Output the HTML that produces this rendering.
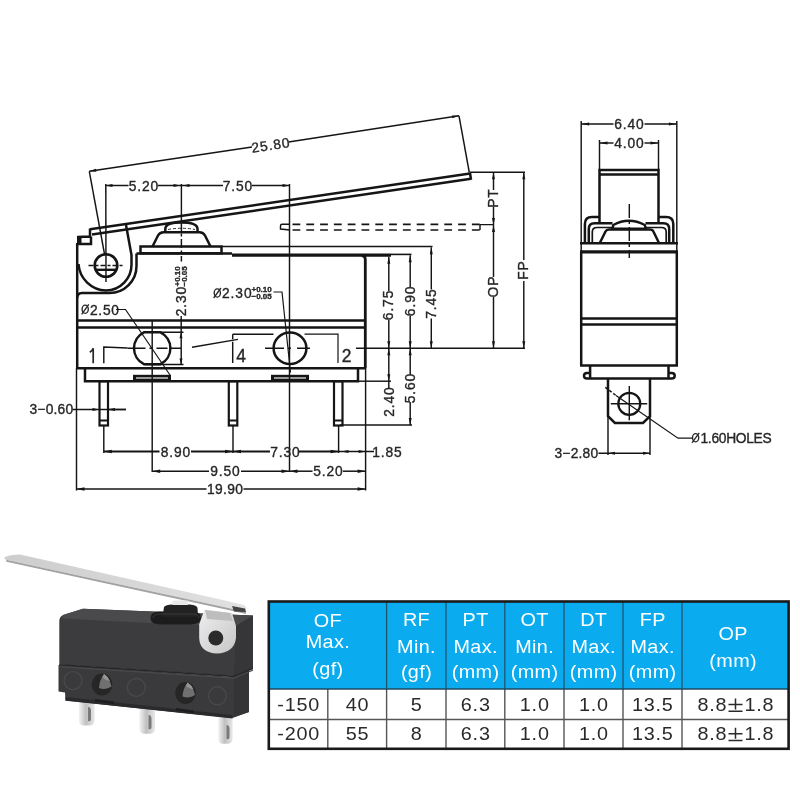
<!DOCTYPE html>
<html><head><meta charset="utf-8">
<style>
html,body{margin:0;padding:0;background:#fff;width:800px;height:800px;overflow:hidden;}
svg{position:absolute;left:0;top:0;will-change:transform;}
text{font-family:"Liberation Sans",sans-serif;}
.dt text{stroke:#262626;stroke-width:0.35;}
</style></head>
<body>
<svg width="800" height="800" viewBox="0 0 800 800">
<g class="dt">
<line x1="90.00" y1="229.30" x2="470.00" y2="173.55" stroke="#151515" stroke-width="2.5"/>
<line x1="92.00" y1="234.60" x2="471.00" y2="178.71" stroke="#151515" stroke-width="2.5"/>
<line x1="470.00" y1="173.05" x2="471.00" y2="179.71" stroke="#151515" stroke-width="2.5"/>
<path d="M90,228.5 L90,236.5 L78.5,237 L78.5,244 L91,244 L91,236.5" fill="none" stroke="#151515" stroke-width="2.5" />
<rect x="77" y="236" width="4.5" height="8.5" fill="#151515"/>
<path d="M126,225 L131.5,255 L131.5,264 A25.5,26 0 0 1 106,290.5 A28.5,28.5 0 0 1 78.5,264" fill="none" stroke="#151515" stroke-width="2.5" />
<path d="M136.5,253.5 L136.5,266 A27,27 0 0 1 109.5,293 L82,293 Q77.2,293 77.2,298" fill="none" stroke="#151515" stroke-width="2.5" />
<circle cx="106" cy="265.5" r="11.3" fill="none" stroke="#151515" stroke-width="2.6"/>
<line x1="95.50" y1="269.80" x2="116.50" y2="269.80" stroke="#151515" stroke-width="2.4"/>
<line x1="88.50" y1="265.50" x2="123.50" y2="265.50" stroke="#151515" stroke-width="1.45" stroke-dasharray="5,2,3,2"/>
<line x1="105.80" y1="184.00" x2="106.00" y2="282.00" stroke="#151515" stroke-width="1.45"/>
<line x1="89.30" y1="171.30" x2="104.50" y2="254.00" stroke="#151515" stroke-width="1.45"/>
<line x1="459.00" y1="115.80" x2="469.30" y2="172.50" stroke="#151515" stroke-width="1.45"/>
<line x1="89.30" y1="171.30" x2="252.00" y2="146.90" stroke="#151515" stroke-width="1.5"/>
<line x1="288.50" y1="142.10" x2="459.00" y2="115.80" stroke="#151515" stroke-width="1.5"/>
<path d="M89.30,171.30 L96.00,168.78 L96.45,171.74 Z" fill="#151515"/>
<path d="M459.00,115.80 L452.31,118.34 L451.85,115.38 Z" fill="#151515"/>
<g transform="rotate(-8.7 270.5 145.5)"><text x="270.95" y="145.5" font-size="13.8" text-anchor="middle" fill="#262626" dominant-baseline="central" letter-spacing="0.9">25.80</text></g>
<rect x="140.5" y="246.5" width="81" height="6.8" fill="none" stroke="#151515" stroke-width="2.5"/>
<path d="M152.5,246.5 L158,235.5 Q159.8,232.2 163.5,232.2 L199.5,232.2 Q203.2,232.2 205,235.5 L210.5,246.5" fill="none" stroke="#151515" stroke-width="2.5" />
<path d="M165.3,232.2 L165.3,229 Q165.3,222.5 181.5,222.5 Q197.5,222.5 197.5,229 L197.5,232.2" fill="none" stroke="#151515" stroke-width="2.5" />
<path d="M168,229.5 Q181.5,227 195,229.5" fill="none" stroke="#151515" stroke-width="0.9" stroke-dasharray="3,2"/>
<line x1="181.40" y1="222.00" x2="181.40" y2="261.50" stroke="#151515" stroke-width="1.45" stroke-dasharray="9,2.5,3,2.5"/>
<line x1="136.50" y1="253.50" x2="232.00" y2="253.50" stroke="#151515" stroke-width="2.5"/>
<line x1="232.00" y1="255.10" x2="391.00" y2="255.10" stroke="#151515" stroke-width="3.3"/>
<path d="M361.5,255.5 Q365.3,255.5 365.3,259.5 L365.3,368.3" fill="none" stroke="#151515" stroke-width="2.8" />
<line x1="221.50" y1="246.50" x2="432.50" y2="246.50" stroke="#151515" stroke-width="1.7"/>
<line x1="391.00" y1="254.40" x2="411.50" y2="254.40" stroke="#151515" stroke-width="1.6"/>
<line x1="77.20" y1="243.00" x2="77.20" y2="368.30" stroke="#151515" stroke-width="2.5"/>
<line x1="77.20" y1="320.40" x2="365.00" y2="320.40" stroke="#151515" stroke-width="2.5"/>
<line x1="77.20" y1="327.40" x2="365.00" y2="327.40" stroke="#151515" stroke-width="2.5"/>
<line x1="76.00" y1="368.30" x2="366.00" y2="368.30" stroke="#151515" stroke-width="2.5"/>
<path d="M85,368.3 L85,381.2 L358,381.2 L358,368.3" fill="none" stroke="#151515" stroke-width="2.5" />
<rect x="133" y="374.8" width="38" height="6.6" fill="#151515"/>
<rect x="136" y="377" width="32" height="2" fill="#9a9a9a"/>
<rect x="271" y="374.8" width="38" height="6.6" fill="#151515"/>
<rect x="274" y="377" width="32" height="2" fill="#9a9a9a"/>
<rect x="99.5" y="381.2" width="8.5" height="44.3" fill="none" stroke="#151515" stroke-width="2.2"/>
<line x1="99.50" y1="420.50" x2="108.00" y2="420.50" stroke="#151515" stroke-width="2.0"/>
<rect x="228.8" y="381.2" width="8.5" height="44.3" fill="none" stroke="#151515" stroke-width="2.2"/>
<line x1="228.80" y1="420.50" x2="237.30" y2="420.50" stroke="#151515" stroke-width="2.0"/>
<rect x="334.0" y="381.2" width="8.5" height="44.3" fill="none" stroke="#151515" stroke-width="2.2"/>
<line x1="334.00" y1="420.50" x2="342.50" y2="420.50" stroke="#151515" stroke-width="2.0"/>
<path d="M143.9,332.3 L160.5,332.3 A17.8,17.8 0 0 1 160.5,364.2 L143.9,364.2 A17.8,17.8 0 0 1 143.9,332.3 Z" fill="none" stroke="#151515" stroke-width="2.5" />
<line x1="145.00" y1="332.20" x2="183.50" y2="332.20" stroke="#151515" stroke-width="1.45"/>
<line x1="145.00" y1="364.40" x2="183.50" y2="364.40" stroke="#151515" stroke-width="1.45"/>
<line x1="127.50" y1="348.20" x2="181.00" y2="348.20" stroke="#151515" stroke-width="1.45" stroke-dasharray="18,4,3,4,11,2"/>
<line x1="152.20" y1="321.00" x2="152.20" y2="472.00" stroke="#151515" stroke-width="1.45"/>
<ellipse cx="290" cy="348.3" rx="16.4" ry="15.8" fill="none" stroke="#151515" stroke-width="2.5"/>
<line x1="265.00" y1="348.30" x2="316.50" y2="348.30" stroke="#151515" stroke-width="1.45" stroke-dasharray="19,4,3,6,13"/>
<line x1="289.50" y1="184.00" x2="289.50" y2="472.00" stroke="#151515" stroke-width="1.45"/>
<line x1="181.40" y1="184.00" x2="181.40" y2="222.00" stroke="#151515" stroke-width="1.45"/>
<line x1="181.20" y1="316.00" x2="181.20" y2="364.40" stroke="#151515" stroke-width="1.45"/>
<path d="M181.00,332.20 L182.50,338.20 L179.50,338.20 Z" fill="#151515"/>
<path d="M181.00,364.40 L179.50,358.40 L182.50,358.40 Z" fill="#151515"/>
<g transform="rotate(-90 181.5 301.5)"><text x="181.95" y="301.5" font-size="13.8" text-anchor="middle" fill="#262626" dominant-baseline="central" letter-spacing="0.9">2.30</text></g>
<g transform="rotate(-90 177.2 286.5)"><text x="177.2" y="286.5" font-size="8" font-weight="bold" text-anchor="start" fill="#262626" dominant-baseline="central">+0.10</text></g>
<g transform="rotate(-90 184.4 286.5)"><text x="184.4" y="286.5" font-size="8" font-weight="bold" text-anchor="start" fill="#262626" dominant-baseline="central">−0.05</text></g>
<ellipse cx="85.2" cy="309.3" rx="3.1" ry="4.1" fill="none" stroke="#262626" stroke-width="1.35"/>
<line x1="81.60000000000001" y1="314.3" x2="88.8" y2="304.3" stroke="#262626" stroke-width="1.3"/>
<text x="90" y="310" font-size="13.8" text-anchor="start" fill="#262626" dominant-baseline="central" letter-spacing="0.7">2.50</text>
<path d="M116,309.5 L125.5,309.5 L170,375" fill="none" stroke="#151515" stroke-width="1.2" />
<ellipse cx="217.3" cy="293" rx="3.1" ry="4.1" fill="none" stroke="#262626" stroke-width="1.35"/>
<line x1="213.70000000000002" y1="298" x2="220.9" y2="288" stroke="#262626" stroke-width="1.3"/>
<text x="222" y="293.5" font-size="13.8" text-anchor="start" fill="#262626" dominant-baseline="central" letter-spacing="0.9">2.30</text>
<g><text x="251.5" y="289.5" font-size="8" font-weight="bold" text-anchor="start" fill="#262626" dominant-baseline="central">+0.10</text></g>
<g><text x="251.5" y="296.8" font-size="8" font-weight="bold" text-anchor="start" fill="#262626" dominant-baseline="central">−0.05</text></g>
<path d="M273.5,292 L282,292 L290.5,372.5" fill="none" stroke="#151515" stroke-width="1.2" />
<path d="M127.5,348 L103.8,347 L103.8,363.3" fill="none" stroke="#151515" stroke-width="1.45" />
<path d="M89.8,352.3 Q92.5,350.5 93.2,348.2 L93.2,363.3" fill="none" stroke="#262626" stroke-width="1.7" />
<line x1="192.00" y1="347.20" x2="238.00" y2="339.40" stroke="#151515" stroke-width="1.45"/>
<line x1="273.50" y1="334.20" x2="232.70" y2="334.20" stroke="#151515" stroke-width="1.45"/>
<line x1="232.70" y1="334.20" x2="232.70" y2="363.00" stroke="#151515" stroke-width="1.45" stroke-dasharray="5,2.5,21.5"/>
<text x="241.0" y="356" font-size="17.5" text-anchor="middle" fill="#262626" dominant-baseline="central" letter-spacing="0">4</text>
<path d="M304.5,334.2 L338,334.2 L338,363" fill="none" stroke="#151515" stroke-width="1.2" />
<text x="346.5" y="356" font-size="17.5" text-anchor="middle" fill="#262626" dominant-baseline="central" letter-spacing="0">2</text>
<line x1="356.00" y1="348.20" x2="525.00" y2="348.20" stroke="#151515" stroke-width="1.45"/>
<line x1="388.80" y1="256.80" x2="388.80" y2="290.90" stroke="#151515" stroke-width="1.45"/>
<line x1="388.80" y1="319.90" x2="388.80" y2="348.20" stroke="#151515" stroke-width="1.45"/>
<path d="M388.80,256.80 L390.30,263.80 L387.30,263.80 Z" fill="#151515"/>
<path d="M388.80,348.20 L387.30,341.20 L390.30,341.20 Z" fill="#151515"/>
<g transform="rotate(-90 388.8 305.4)"><text x="389.25" y="305.4" font-size="13.8" text-anchor="middle" fill="#262626" dominant-baseline="central" letter-spacing="0.9">6.75</text></g>
<line x1="410.20" y1="255.30" x2="410.20" y2="286.90" stroke="#151515" stroke-width="1.45"/>
<line x1="410.20" y1="315.90" x2="410.20" y2="348.20" stroke="#151515" stroke-width="1.45"/>
<path d="M410.20,255.30 L411.70,262.30 L408.70,262.30 Z" fill="#151515"/>
<path d="M410.20,348.20 L408.70,341.20 L411.70,341.20 Z" fill="#151515"/>
<g transform="rotate(-90 410.2 301.4)"><text x="410.65" y="301.4" font-size="13.8" text-anchor="middle" fill="#262626" dominant-baseline="central" letter-spacing="0.9">6.90</text></g>
<line x1="431.30" y1="247.30" x2="431.30" y2="289.50" stroke="#151515" stroke-width="1.45"/>
<line x1="431.30" y1="318.50" x2="431.30" y2="348.20" stroke="#151515" stroke-width="1.45"/>
<path d="M431.30,247.30 L432.80,254.30 L429.80,254.30 Z" fill="#151515"/>
<path d="M431.30,348.20 L429.80,341.20 L432.80,341.20 Z" fill="#151515"/>
<g transform="rotate(-90 431.3 304)"><text x="431.75" y="304" font-size="13.8" text-anchor="middle" fill="#262626" dominant-baseline="central" letter-spacing="0.9">7.45</text></g>
<line x1="388.80" y1="348.20" x2="388.80" y2="389.00" stroke="#151515" stroke-width="1.45"/>
<path d="M388.80,348.20 L390.30,355.20 L387.30,355.20 Z" fill="#151515"/>
<path d="M388.80,381.20 L387.30,374.20 L390.30,374.20 Z" fill="#151515"/>
<g transform="rotate(-90 389.2 402)"><text x="389.65" y="402" font-size="13.8" text-anchor="middle" fill="#262626" dominant-baseline="central" letter-spacing="0.9">2.40</text></g>
<line x1="359.00" y1="381.20" x2="391.00" y2="381.20" stroke="#151515" stroke-width="1.45"/>
<line x1="410.20" y1="348.20" x2="410.20" y2="375.00" stroke="#151515" stroke-width="1.45"/>
<line x1="410.20" y1="402.00" x2="410.20" y2="425.00" stroke="#151515" stroke-width="1.45"/>
<path d="M410.20,348.20 L411.70,355.20 L408.70,355.20 Z" fill="#151515"/>
<path d="M410.20,425.00 L408.70,418.00 L411.70,418.00 Z" fill="#151515"/>
<g transform="rotate(-90 410.7 388.5)"><text x="411.15" y="388.5" font-size="13.8" text-anchor="middle" fill="#262626" dominant-baseline="central" letter-spacing="0.9">5.60</text></g>
<line x1="340.00" y1="425.00" x2="412.00" y2="425.00" stroke="#151515" stroke-width="1.45"/>
<line x1="470.00" y1="172.30" x2="525.00" y2="172.30" stroke="#151515" stroke-width="1.45"/>
<line x1="493.50" y1="172.30" x2="493.50" y2="190.00" stroke="#151515" stroke-width="1.45"/>
<line x1="493.50" y1="207.00" x2="493.50" y2="225.00" stroke="#151515" stroke-width="1.45"/>
<path d="M493.50,172.30 L495.00,179.30 L492.00,179.30 Z" fill="#151515"/>
<path d="M493.50,225.00 L492.00,218.00 L495.00,218.00 Z" fill="#151515"/>
<g transform="rotate(-90 493.5 198.5)"><text x="493.95" y="198.5" font-size="13.8" text-anchor="middle" fill="#262626" dominant-baseline="central" letter-spacing="0.9">PT</text></g>
<line x1="493.50" y1="225.00" x2="493.50" y2="277.00" stroke="#151515" stroke-width="1.45"/>
<line x1="493.50" y1="297.00" x2="493.50" y2="348.20" stroke="#151515" stroke-width="1.45"/>
<path d="M493.50,225.00 L495.00,232.00 L492.00,232.00 Z" fill="#151515"/>
<path d="M493.50,348.20 L492.00,341.20 L495.00,341.20 Z" fill="#151515"/>
<g transform="rotate(-90 493.5 287)"><text x="493.95" y="287" font-size="13.8" text-anchor="middle" fill="#262626" dominant-baseline="central" letter-spacing="0.9">OP</text></g>
<line x1="523.80" y1="172.30" x2="523.80" y2="260.00" stroke="#151515" stroke-width="1.45"/>
<line x1="523.80" y1="281.00" x2="523.80" y2="348.20" stroke="#151515" stroke-width="1.45"/>
<path d="M523.80,172.30 L525.30,179.30 L522.30,179.30 Z" fill="#151515"/>
<path d="M523.80,348.20 L522.30,341.20 L525.30,341.20 Z" fill="#151515"/>
<g transform="rotate(-90 523.8 270.5)"><text x="524.25" y="270.5" font-size="13.8" text-anchor="middle" fill="#262626" dominant-baseline="central" letter-spacing="0.9">FP</text></g>
<line x1="292.50" y1="224.30" x2="480.00" y2="224.30" stroke="#151515" stroke-width="1.7" stroke-dasharray="7.8,6"/>
<line x1="292.50" y1="230.00" x2="480.00" y2="230.00" stroke="#151515" stroke-width="1.7" stroke-dasharray="7.8,6"/>
<path d="M480,230 L480,224.6 L494,224.6" fill="none" stroke="#151515" stroke-width="1.45" />
<path d="M290,224.3 L282,224.3 Q280.5,224.3 280.5,226 L280.5,229 L290,230" fill="none" stroke="#151515" stroke-width="1.45" />
<line x1="105.50" y1="185.50" x2="128.50" y2="185.50" stroke="#151515" stroke-width="1.5"/>
<line x1="157.50" y1="185.50" x2="181.50" y2="185.50" stroke="#151515" stroke-width="1.5"/>
<line x1="181.50" y1="185.50" x2="223.00" y2="185.50" stroke="#151515" stroke-width="1.5"/>
<line x1="252.00" y1="185.50" x2="289.50" y2="185.50" stroke="#151515" stroke-width="1.5"/>
<path d="M105.50,185.50 L112.50,184.00 L112.50,187.00 Z" fill="#151515"/>
<path d="M180.50,185.50 L173.50,187.00 L173.50,184.00 Z" fill="#151515"/>
<path d="M182.50,185.50 L189.50,184.00 L189.50,187.00 Z" fill="#151515"/>
<path d="M289.50,185.50 L282.50,187.00 L282.50,184.00 Z" fill="#151515"/>
<text x="143.95" y="186" font-size="13.8" text-anchor="middle" fill="#262626" dominant-baseline="central" letter-spacing="0.9">5.20</text>
<text x="237.95" y="186" font-size="13.8" text-anchor="middle" fill="#262626" dominant-baseline="central" letter-spacing="0.9">7.50</text>
<text x="51.4" y="409.5" font-size="13.8" text-anchor="middle" fill="#262626" dominant-baseline="central" letter-spacing="0.2">3−0.60</text>
<line x1="72.50" y1="409.50" x2="126.00" y2="409.50" stroke="#151515" stroke-width="1.45"/>
<path d="M99.50,409.50 L92.50,411.00 L92.50,408.00 Z" fill="#151515"/>
<line x1="108.00" y1="409.50" x2="126.00" y2="409.50" stroke="#151515" stroke-width="1.45"/>
<path d="M108.00,409.50 L115.00,408.00 L115.00,411.00 Z" fill="#151515"/>
<line x1="103.80" y1="425.50" x2="103.80" y2="453.00" stroke="#151515" stroke-width="1.45"/>
<line x1="233.00" y1="425.50" x2="233.00" y2="453.00" stroke="#151515" stroke-width="1.45"/>
<line x1="338.60" y1="425.50" x2="338.60" y2="453.00" stroke="#151515" stroke-width="1.45"/>
<line x1="76.50" y1="368.30" x2="76.50" y2="490.50" stroke="#151515" stroke-width="1.45"/>
<line x1="365.60" y1="368.30" x2="365.60" y2="490.50" stroke="#151515" stroke-width="1.45"/>
<line x1="103.80" y1="451.50" x2="159.50" y2="451.50" stroke="#151515" stroke-width="1.8"/>
<line x1="191.00" y1="451.50" x2="233.00" y2="451.50" stroke="#151515" stroke-width="1.8"/>
<line x1="233.00" y1="451.50" x2="270.00" y2="451.50" stroke="#151515" stroke-width="1.8"/>
<line x1="298.50" y1="451.50" x2="338.60" y2="451.50" stroke="#151515" stroke-width="1.8"/>
<path d="M103.80,451.50 L111.80,449.80 L111.80,453.20 Z" fill="#151515"/>
<path d="M233.00,451.50 L225.00,453.20 L225.00,449.80 Z" fill="#151515"/>
<path d="M233.00,451.50 L241.00,449.80 L241.00,453.20 Z" fill="#151515"/>
<path d="M338.60,451.50 L330.60,453.20 L330.60,449.80 Z" fill="#151515"/>
<line x1="338.60" y1="451.50" x2="374.00" y2="451.50" stroke="#151515" stroke-width="1.45"/>
<path d="M341.50,451.50 L348.50,450.00 L348.50,453.00 Z" fill="#151515"/>
<path d="M365.60,451.50 L358.60,453.00 L358.60,450.00 Z" fill="#151515"/>
<text x="175.95" y="452" font-size="13.8" text-anchor="middle" fill="#262626" dominant-baseline="central" letter-spacing="0.9">8.90</text>
<text x="285.45" y="452" font-size="13.8" text-anchor="middle" fill="#262626" dominant-baseline="central" letter-spacing="0.9">7.30</text>
<text x="387.45" y="452" font-size="13.8" text-anchor="middle" fill="#262626" dominant-baseline="central" letter-spacing="0.9">1.85</text>
<line x1="152.20" y1="471.20" x2="209.00" y2="471.20" stroke="#151515" stroke-width="1.5"/>
<line x1="241.00" y1="471.20" x2="289.50" y2="471.20" stroke="#151515" stroke-width="1.5"/>
<line x1="289.50" y1="471.20" x2="312.50" y2="471.20" stroke="#151515" stroke-width="1.5"/>
<line x1="343.00" y1="471.20" x2="365.60" y2="471.20" stroke="#151515" stroke-width="1.5"/>
<path d="M152.20,471.20 L160.20,469.50 L160.20,472.90 Z" fill="#151515"/>
<path d="M289.50,471.20 L281.50,472.90 L281.50,469.50 Z" fill="#151515"/>
<path d="M289.50,471.20 L297.50,469.50 L297.50,472.90 Z" fill="#151515"/>
<path d="M365.60,471.20 L357.60,472.90 L357.60,469.50 Z" fill="#151515"/>
<text x="225.45" y="471.5" font-size="13.8" text-anchor="middle" fill="#262626" dominant-baseline="central" letter-spacing="0.9">9.50</text>
<text x="328.45" y="471.5" font-size="13.8" text-anchor="middle" fill="#262626" dominant-baseline="central" letter-spacing="0.9">5.20</text>
<line x1="76.50" y1="489.00" x2="206.50" y2="489.00" stroke="#151515" stroke-width="1.5"/>
<line x1="243.50" y1="489.00" x2="365.60" y2="489.00" stroke="#151515" stroke-width="1.5"/>
<path d="M76.50,489.00 L84.50,487.30 L84.50,490.70 Z" fill="#151515"/>
<path d="M365.60,489.00 L357.60,490.70 L357.60,487.30 Z" fill="#151515"/>
<text x="225.2" y="489.5" font-size="13.8" text-anchor="middle" fill="#262626" dominant-baseline="central" letter-spacing="0.4">19.90</text>
<line x1="581.20" y1="121.00" x2="581.20" y2="252.00" stroke="#151515" stroke-width="1.45"/>
<line x1="676.80" y1="121.00" x2="676.80" y2="252.00" stroke="#151515" stroke-width="1.45"/>
<line x1="581.20" y1="124.00" x2="613.50" y2="124.00" stroke="#151515" stroke-width="1.45"/>
<line x1="644.50" y1="124.00" x2="676.80" y2="124.00" stroke="#151515" stroke-width="1.45"/>
<path d="M581.20,124.00 L589.20,122.40 L589.20,125.60 Z" fill="#151515"/>
<path d="M676.80,124.00 L668.80,125.60 L668.80,122.40 Z" fill="#151515"/>
<text x="629.45" y="124.5" font-size="13.8" text-anchor="middle" fill="#262626" dominant-baseline="central" letter-spacing="0.9">6.40</text>
<line x1="599.50" y1="140.00" x2="599.50" y2="170.00" stroke="#151515" stroke-width="1.45"/>
<line x1="658.50" y1="140.00" x2="658.50" y2="170.00" stroke="#151515" stroke-width="1.45"/>
<line x1="599.50" y1="143.00" x2="613.50" y2="143.00" stroke="#151515" stroke-width="1.45"/>
<line x1="644.50" y1="143.00" x2="658.50" y2="143.00" stroke="#151515" stroke-width="1.45"/>
<path d="M599.50,143.00 L607.50,141.40 L607.50,144.60 Z" fill="#151515"/>
<path d="M658.50,143.00 L650.50,144.60 L650.50,141.40 Z" fill="#151515"/>
<text x="629.45" y="143.5" font-size="13.8" text-anchor="middle" fill="#262626" dominant-baseline="central" letter-spacing="0.9">4.00</text>
<path d="M599.5,222 L599.5,170 L658.5,170 L658.5,222" fill="none" stroke="#151515" stroke-width="2.5" />
<line x1="599.50" y1="174.50" x2="658.50" y2="174.50" stroke="#151515" stroke-width="2.5"/>
<path d="M584.9,243 L584.9,224 Q584.9,217 592,217 L599.5,217" fill="none" stroke="#151515" stroke-width="2.5" />
<path d="M658.5,217 L666,217 Q673.3,217 673.3,224 L673.3,243" fill="none" stroke="#151515" stroke-width="2.5" />
<path d="M588.8,243 L588.8,229 Q588.8,223.3 594.5,223.3 L612.5,223.3" fill="none" stroke="#151515" stroke-width="2.5" />
<path d="M645.5,223.3 L663.5,223.3 Q669.2,223.3 669.2,229 L669.2,243" fill="none" stroke="#151515" stroke-width="2.5" />
<path d="M592.3,243 L592.3,232 Q592.3,227.5 597,227.5 L612.5,227.5" fill="none" stroke="#151515" stroke-width="1.7" />
<path d="M645.5,227.5 L661.5,227.5 Q666.2,227.5 666.2,232 L666.2,243" fill="none" stroke="#151515" stroke-width="1.7" />
<path d="M612.5,228.8 L613.3,225 Q628.8,216.5 644.8,225 L645.8,228.8 Z" fill="none" stroke="#151515" stroke-width="2.5" />
<path d="M599.8,243 L605.5,231.5 Q606.5,229.5 609,229.5 L650,229.5 Q652.5,229.5 653.4,231.5 L659,243" fill="none" stroke="#151515" stroke-width="2.5" />
<line x1="580.00" y1="243.30" x2="678.00" y2="243.30" stroke="#151515" stroke-width="2.5"/>
<line x1="580.00" y1="251.80" x2="678.00" y2="251.80" stroke="#151515" stroke-width="3.2"/>
<line x1="629.30" y1="204.00" x2="629.30" y2="258.00" stroke="#151515" stroke-width="1.45" stroke-dasharray="14,3,3,3"/>
<line x1="581.20" y1="251.80" x2="581.20" y2="365.50" stroke="#151515" stroke-width="2.5"/>
<line x1="676.80" y1="251.80" x2="676.80" y2="365.50" stroke="#151515" stroke-width="2.5"/>
<line x1="581.20" y1="318.40" x2="676.80" y2="318.40" stroke="#151515" stroke-width="2.5"/>
<line x1="581.20" y1="324.60" x2="676.80" y2="324.60" stroke="#151515" stroke-width="2.5"/>
<line x1="580.00" y1="365.50" x2="678.00" y2="365.50" stroke="#151515" stroke-width="2.5"/>
<line x1="590.10" y1="365.50" x2="590.10" y2="378.60" stroke="#151515" stroke-width="2.5"/>
<line x1="668.50" y1="365.50" x2="668.50" y2="378.60" stroke="#151515" stroke-width="2.5"/>
<path d="M590.1,372.9 L587,372.9 Q584,372.9 584,375.8 Q584,378.6 587,378.6 L671.7,378.6 Q674.7,378.6 674.7,375.8 Q674.7,372.9 671.7,372.9 L668.5,372.9" fill="none" stroke="#151515" stroke-width="2.5" />
<path d="M608,378.6 L608,416.2 L614.9,423 L643,423 L650,416.2 L650,378.6" fill="none" stroke="#151515" stroke-width="2.5" />
<circle cx="629.3" cy="403.8" r="11" fill="none" stroke="#151515" stroke-width="2.3"/>
<line x1="610.80" y1="403.80" x2="647.20" y2="403.80" stroke="#151515" stroke-width="1.45"/>
<line x1="629.30" y1="386.00" x2="629.30" y2="420.30" stroke="#151515" stroke-width="1.45"/>
<line x1="605.30" y1="387.30" x2="616.00" y2="395.50" stroke="#151515" stroke-width="1.45" stroke-dasharray="3,2"/>
<path d="M616,395.5 L678,438.2 L692,438.2" fill="none" stroke="#151515" stroke-width="1.2" />
<ellipse cx="695.6" cy="437.8" rx="3.1" ry="4.1" fill="none" stroke="#262626" stroke-width="1.35"/>
<line x1="692.0" y1="442.8" x2="699.2" y2="432.8" stroke="#262626" stroke-width="1.3"/>
<text x="700.5" y="438.5" font-size="13.8" text-anchor="start" fill="#262626" dominant-baseline="central" letter-spacing="-0.3">1.60HOLES</text>
<line x1="608.00" y1="416.00" x2="608.00" y2="455.00" stroke="#151515" stroke-width="1.45"/>
<line x1="650.00" y1="416.00" x2="650.00" y2="455.00" stroke="#151515" stroke-width="1.45"/>
<line x1="598.40" y1="453.30" x2="650.00" y2="453.30" stroke="#151515" stroke-width="1.45"/>
<path d="M608.00,453.30 L615.00,451.80 L615.00,454.80 Z" fill="#151515"/>
<path d="M650.00,453.30 L643.00,454.80 L643.00,451.80 Z" fill="#151515"/>
<text x="576.4" y="453.8" font-size="13.8" text-anchor="middle" fill="#262626" dominant-baseline="central" letter-spacing="0.2">3−2.80</text>
</g>

<defs>
<linearGradient id="lev" x1="0" y1="0" x2="1" y2="0"><stop offset="0" stop-color="#cdcdcd"/><stop offset="0.6" stop-color="#d8d8d8"/><stop offset="1" stop-color="#e2e2e2"/></linearGradient>
<linearGradient id="ping" x1="0" y1="0" x2="1" y2="0"><stop offset="0" stop-color="#f4f4f4"/><stop offset="0.45" stop-color="#c0c0c0"/><stop offset="1" stop-color="#e8e8e8"/></linearGradient>
<linearGradient id="brk" x1="0" y1="0" x2="1" y2="1"><stop offset="0" stop-color="#eeeeee"/><stop offset="1" stop-color="#c6c6c6"/></linearGradient>
<linearGradient id="topf" x1="0" y1="0" x2="0" y2="1"><stop offset="0" stop-color="#555"/><stop offset="1" stop-color="#444"/></linearGradient>
</defs>
<!-- terminals -->
<path d="M78.8,698 L94.6,700 L94.6,720 Q94.6,725.5 89,725.5 L84,725.5 Q78.8,725.5 78.8,720 Z" fill="url(#ping)"/>
<path d="M88,707 Q91,707 91,711 L91,719 Q91,722 88,721 Z" fill="#7a7a7a"/>
<path d="M139.2,705 L155,707 L155,728 Q155,733.8 149.5,733.8 L144.5,733.8 Q139.2,733.8 139.2,728 Z" fill="url(#ping)"/>
<path d="M148.5,715 Q151.5,715 151.5,719 L151.5,727 Q151.5,730 148.5,729 Z" fill="#7a7a7a"/>
<path d="M218.2,716 L232.6,718 L232.6,738 Q232.6,743.8 227.5,743.8 L223,743.8 Q218.2,743.8 218.2,738 Z" fill="url(#ping)"/>
<path d="M226.5,725 Q229.5,725 229.5,729 L229.5,737 Q229.5,740 226.5,739 Z" fill="#7a7a7a"/>
<!-- body lower half -->
<path d="M58.5,665 L234,677 L249,670 L249,712 L232.5,718 L65.5,700.7 L65,692.5 L58.5,691.5 Z" fill="#3a3a3c"/>
<path d="M234,677 L249,670 L249,712 L234,717 Z" fill="#343436"/>
<!-- body upper half -->
<path d="M59.3,621 Q59.3,617 63,615 L83,608.8 L253,615.5 L253,668 L234,676 L59.3,664.5 Z" fill="#3c3c3e"/>
<path d="M63,615 L83,608.8 L253,615.5 L236,626 L138,622.5 L62,618.5 Z" fill="#4a4a4c"/>
<path d="M236,626 L253,615.5 L253,668 L234,676 Z" fill="#363638"/>
<!-- seam -->
<path d="M59.3,664 L234,675.5 L253,667.5 L253,669.3 L234,677.3 L59.3,665.8 Z" fill="#28282a"/>
<path d="M59.3,666 L234,677.5 L253,669.5 L253,670.7 L234,678.7 L59.3,667.2 Z" fill="#4a4a4c"/>
<!-- bottom edge shadow -->
<path d="M65.5,697 L232.5,715 L232.5,718.5 L65.5,700.5 Z" fill="#2a2a2c"/>
<path d="M95,699 L114,701.5 L114,704 L95,701.5 Z" fill="#1e1e1e"/>
<path d="M176,708 L194,710.5 L194,713 L176,710.5 Z" fill="#1e1e1e"/>
<!-- embossed circles -->
<circle cx="73" cy="680.6" r="9" fill="none" stroke="#48484a" stroke-width="1.4"/>
<circle cx="136.3" cy="687.5" r="9" fill="none" stroke="#48484a" stroke-width="1.4"/>
<circle cx="217.4" cy="695.8" r="9" fill="none" stroke="#48484a" stroke-width="1.4"/>
<!-- holes -->
<ellipse cx="102" cy="684.5" rx="10.3" ry="11" fill="#262627"/>
<path d="M104,674 Q109.5,677.5 111.5,686.5 Q106,690.5 99,688 Q99.5,680 104,674 Z" fill="#707070"/>
<path d="M104,674 Q108,676.5 110,681 Q105,680 102.5,677.5 Z" fill="#959595"/>
<ellipse cx="185.5" cy="693" rx="10.3" ry="11" fill="#262627"/>
<path d="M187.5,682.5 Q193,686 195,695 Q189.5,699 182.5,696.5 Q183,688.5 187.5,682.5 Z" fill="#707070"/>
<path d="M187.5,682.5 Q191.5,685 193.5,689.5 Q188.5,688.5 186,686 Z" fill="#959595"/>
<!-- plunger boot -->
<path d="M150.5,618 Q150.5,611.5 160,611.5 L192,611.5 Q201,611.5 201,618 Q201,624.5 190,624.5 L161,624.5 Q150.5,624.5 150.5,618 Z" fill="#1c1c1c"/>
<path d="M162.5,617 L164,607 Q166,604.5 172,604.5 L190,604.5 Q197,605 197.5,608 L198,617 Z" fill="#222"/>
<path d="M153,618 Q153,614 160,614 L192,614 Q199,614 199,618" fill="none" stroke="#3a3a3a" stroke-width="1"/>
<!-- lever -->
<path d="M20,554.5 L120,577 L225,600.6 L244,605 L246.5,607.5 L246,612 L225,607.2 L120,584.6 L6,559.8 Q3.5,558.5 5,557 Q10,554.5 20,554.5 Z" fill="url(#lev)"/>
<path d="M6,559.8 L120,584.6 L225,607.2 L246,612 L246,614 L225,609.2 L120,586.6 L6.5,561.8 Z" fill="#a2a2a2"/>
<path d="M232,606 L245,608.5 L246,612 L234,611.5 Z" fill="#444"/>
<path d="M172.5,600.5 L188,600.5 L188,605 L172.5,605 Z" fill="#e8e8e8"/>
<!-- bracket -->
<path d="M204.5,609.5 L232,613 L236,626 L236,638 Q234,653 217,653.5 Q200,653 199.2,638 L199.2,624.5 Z" fill="url(#brk)"/>
<path d="M205,610 L230,613 L233,621 L207,619 Z" fill="#bdbdbd"/>
<circle cx="215.8" cy="638" r="7.5" fill="#2b2b2b"/>

<rect x="268.8" y="601.5" width="519.8" height="87.5" fill="#0aacef"/>
<line x1="386.6" y1="601.5" x2="386.6" y2="689.0" stroke="#1f5570" stroke-width="1.3"/>
<line x1="446.0" y1="601.5" x2="446.0" y2="689.0" stroke="#1f5570" stroke-width="1.3"/>
<line x1="504.8" y1="601.5" x2="504.8" y2="689.0" stroke="#1f5570" stroke-width="1.3"/>
<line x1="564.0" y1="601.5" x2="564.0" y2="689.0" stroke="#1f5570" stroke-width="1.3"/>
<line x1="623.0" y1="601.5" x2="623.0" y2="689.0" stroke="#1f5570" stroke-width="1.3"/>
<line x1="682.0" y1="601.5" x2="682.0" y2="689.0" stroke="#1f5570" stroke-width="1.3"/>
<line x1="327.8" y1="689.0" x2="327.8" y2="748.8" stroke="#555" stroke-width="1.4"/>
<line x1="386.6" y1="689.0" x2="386.6" y2="748.8" stroke="#555" stroke-width="1.4"/>
<line x1="446.0" y1="689.0" x2="446.0" y2="748.8" stroke="#555" stroke-width="1.4"/>
<line x1="504.8" y1="689.0" x2="504.8" y2="748.8" stroke="#555" stroke-width="1.4"/>
<line x1="564.0" y1="689.0" x2="564.0" y2="748.8" stroke="#555" stroke-width="1.4"/>
<line x1="623.0" y1="689.0" x2="623.0" y2="748.8" stroke="#555" stroke-width="1.4"/>
<line x1="682.0" y1="689.0" x2="682.0" y2="748.8" stroke="#555" stroke-width="1.4"/>
<line x1="268.8" y1="689.0" x2="788.6" y2="689.0" stroke="#1f4a60" stroke-width="1.6"/>
<line x1="268.8" y1="719.5" x2="788.6" y2="719.5" stroke="#555" stroke-width="1.4"/>
<rect x="268.8" y="601.5" width="519.8" height="147.29999999999995" fill="none" stroke="#1a1a1a" stroke-width="2.6"/>
<text transform="translate(327.90,626.5) scale(1.1,1)" x="0" y="0" font-size="18" text-anchor="middle" fill="#fff" letter-spacing="0.35">OF</text>
<text transform="translate(327.90,648) scale(1.1,1)" x="0" y="0" font-size="18" text-anchor="middle" fill="#fff" letter-spacing="0.35">Max.</text>
<text transform="translate(327.90,675) scale(1.1,1)" x="0" y="0" font-size="18" text-anchor="middle" fill="#fff" letter-spacing="0.35">(gf)</text>
<text transform="translate(416.50,625.5) scale(1.1,1)" x="0" y="0" font-size="18" text-anchor="middle" fill="#fff" letter-spacing="0.35">RF</text>
<text transform="translate(416.50,653) scale(1.1,1)" x="0" y="0" font-size="18" text-anchor="middle" fill="#fff" letter-spacing="0.35">Min.</text>
<text transform="translate(416.50,678) scale(1.1,1)" x="0" y="0" font-size="18" text-anchor="middle" fill="#fff" letter-spacing="0.35">(gf)</text>
<text transform="translate(475.60,625.5) scale(1.1,1)" x="0" y="0" font-size="18" text-anchor="middle" fill="#fff" letter-spacing="0.35">PT</text>
<text transform="translate(475.60,653) scale(1.1,1)" x="0" y="0" font-size="18" text-anchor="middle" fill="#fff" letter-spacing="0.35">Max.</text>
<text transform="translate(475.60,678) scale(1.1,1)" x="0" y="0" font-size="18" text-anchor="middle" fill="#fff" letter-spacing="0.35">(mm)</text>
<text transform="translate(534.60,625.5) scale(1.1,1)" x="0" y="0" font-size="18" text-anchor="middle" fill="#fff" letter-spacing="0.35">OT</text>
<text transform="translate(534.60,653) scale(1.1,1)" x="0" y="0" font-size="18" text-anchor="middle" fill="#fff" letter-spacing="0.35">Min.</text>
<text transform="translate(534.60,678) scale(1.1,1)" x="0" y="0" font-size="18" text-anchor="middle" fill="#fff" letter-spacing="0.35">(mm)</text>
<text transform="translate(593.70,625.5) scale(1.1,1)" x="0" y="0" font-size="18" text-anchor="middle" fill="#fff" letter-spacing="0.35">DT</text>
<text transform="translate(593.70,653) scale(1.1,1)" x="0" y="0" font-size="18" text-anchor="middle" fill="#fff" letter-spacing="0.35">Max.</text>
<text transform="translate(593.70,678) scale(1.1,1)" x="0" y="0" font-size="18" text-anchor="middle" fill="#fff" letter-spacing="0.35">(mm)</text>
<text transform="translate(652.70,625.5) scale(1.1,1)" x="0" y="0" font-size="18" text-anchor="middle" fill="#fff" letter-spacing="0.35">FP</text>
<text transform="translate(652.70,653) scale(1.1,1)" x="0" y="0" font-size="18" text-anchor="middle" fill="#fff" letter-spacing="0.35">Max.</text>
<text transform="translate(652.70,678) scale(1.1,1)" x="0" y="0" font-size="18" text-anchor="middle" fill="#fff" letter-spacing="0.35">(mm)</text>
<text transform="translate(733.20,639.5) scale(1.1,1)" x="0" y="0" font-size="18" text-anchor="middle" fill="#fff" letter-spacing="0.35">OP</text>
<text transform="translate(733.20,667) scale(1.1,1)" x="0" y="0" font-size="18" text-anchor="middle" fill="#fff" letter-spacing="0.35">(mm)</text>
<text transform="translate(298.65,711) scale(1.1,1)" x="0" y="0" font-size="18" text-anchor="middle" fill="#2a2a2a" letter-spacing="0.7">-150</text>
<text transform="translate(298.65,740.3) scale(1.1,1)" x="0" y="0" font-size="18" text-anchor="middle" fill="#2a2a2a" letter-spacing="0.7">-200</text>
<text transform="translate(357.55,711) scale(1.1,1)" x="0" y="0" font-size="18" text-anchor="middle" fill="#2a2a2a" letter-spacing="0.7">40</text>
<text transform="translate(357.55,740.3) scale(1.1,1)" x="0" y="0" font-size="18" text-anchor="middle" fill="#2a2a2a" letter-spacing="0.7">55</text>
<text transform="translate(416.65,711) scale(1.1,1)" x="0" y="0" font-size="18" text-anchor="middle" fill="#2a2a2a" letter-spacing="0.7">5</text>
<text transform="translate(416.65,740.3) scale(1.1,1)" x="0" y="0" font-size="18" text-anchor="middle" fill="#2a2a2a" letter-spacing="0.7">8</text>
<text transform="translate(475.75,711) scale(1.1,1)" x="0" y="0" font-size="18" text-anchor="middle" fill="#2a2a2a" letter-spacing="0.7">6.3</text>
<text transform="translate(475.75,740.3) scale(1.1,1)" x="0" y="0" font-size="18" text-anchor="middle" fill="#2a2a2a" letter-spacing="0.7">6.3</text>
<text transform="translate(534.75,711) scale(1.1,1)" x="0" y="0" font-size="18" text-anchor="middle" fill="#2a2a2a" letter-spacing="0.7">1.0</text>
<text transform="translate(534.75,740.3) scale(1.1,1)" x="0" y="0" font-size="18" text-anchor="middle" fill="#2a2a2a" letter-spacing="0.7">1.0</text>
<text transform="translate(593.85,711) scale(1.1,1)" x="0" y="0" font-size="18" text-anchor="middle" fill="#2a2a2a" letter-spacing="0.7">1.0</text>
<text transform="translate(593.85,740.3) scale(1.1,1)" x="0" y="0" font-size="18" text-anchor="middle" fill="#2a2a2a" letter-spacing="0.7">1.0</text>
<text transform="translate(652.85,711) scale(1.1,1)" x="0" y="0" font-size="18" text-anchor="middle" fill="#2a2a2a" letter-spacing="0.7">13.5</text>
<text transform="translate(652.85,740.3) scale(1.1,1)" x="0" y="0" font-size="18" text-anchor="middle" fill="#2a2a2a" letter-spacing="0.7">13.5</text>
<text transform="translate(712.35,711) scale(1.1,1)" x="0" y="0" font-size="18" text-anchor="middle" fill="#2a2a2a" letter-spacing="0.7">8.8</text>
<text transform="translate(759.35,711) scale(1.1,1)" x="0" y="0" font-size="18" text-anchor="middle" fill="#2a2a2a" letter-spacing="0.7">1.8</text>
<path d="M728.5,704.5 H742.5 M735.5,698.5 V709.5 M728.5,711.2 H742.5" stroke="#2a2a2a" stroke-width="1.5" fill="none"/>
<text transform="translate(712.35,740.3) scale(1.1,1)" x="0" y="0" font-size="18" text-anchor="middle" fill="#2a2a2a" letter-spacing="0.7">8.8</text>
<text transform="translate(759.35,740.3) scale(1.1,1)" x="0" y="0" font-size="18" text-anchor="middle" fill="#2a2a2a" letter-spacing="0.7">1.8</text>
<path d="M728.5,733.8 H742.5 M735.5,727.8 V738.8 M728.5,740.5 H742.5" stroke="#2a2a2a" stroke-width="1.5" fill="none"/>
</svg>
</body></html>
